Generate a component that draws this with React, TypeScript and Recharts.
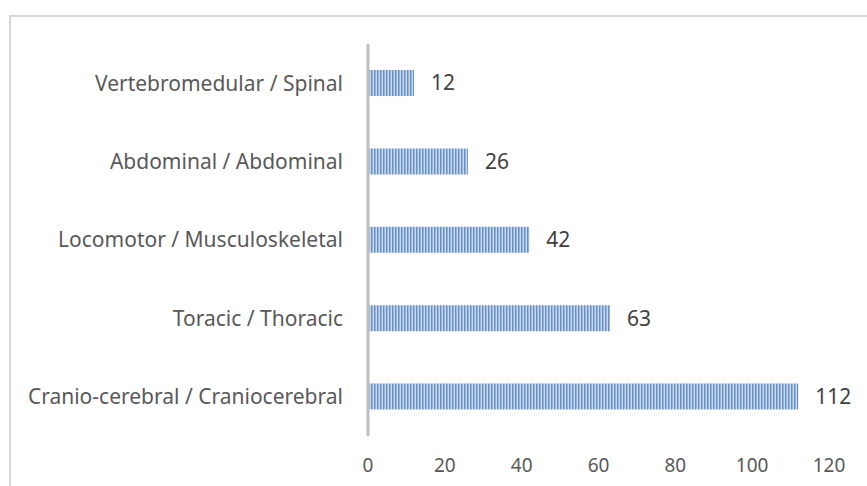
import { BarChart, Bar, XAxis, YAxis, LabelList } from "recharts";

const categories = [
  "Vertebromedular / Spinal",
  "Abdominal / Abdominal",
  "Locomotor / Musculoskeletal",
  "Toracic / Thoracic",
  "Cranio-cerebral / Craniocerebral",
];
const counts = [12, 26, 42, 63, 112];
const xTicks = [0, 20, 40, 60, 80, 100, 120];

const data = categories.map((name, i) => ({ name, value: counts[i] }));

const font = "'Noto Sans', sans-serif";

export default function App() {
  return (
    <div
      style={{
        position: "absolute",
        left: 9,
        top: 15,
        width: 858,
        height: 471,
        borderTop: "2px solid #d9d9d9",
        borderLeft: "2px solid #d9d9d9",
        background: "#fff",
        fontFamily: font,
      }}
    >
      <BarChart
        width={856}
        height={469}
        data={data}
        layout="vertical"
        margin={{ top: 27, right: 38, bottom: 10, left: 0 }}
        barSize={26}
      >
        <defs>
          <pattern id="stripes" width="3" height="4" patternUnits="userSpaceOnUse">
            <rect width="3" height="4" fill="#c8d8ed" />
            <rect width="1.5" height="4" fill="#6890c4" />
          </pattern>
        </defs>
        <XAxis
          type="number"
          domain={[0, 120]}
          ticks={xTicks}
          axisLine={false}
          tickLine={false}
          tickMargin={17}
          height={40}
          tick={{ fill: "#595959", fontSize: 19, fontFamily: font }}
        />
        <YAxis
          type="category"
          dataKey="name"
          width={357}
          axisLine={{ stroke: "#bfbfbf", strokeWidth: 3 }}
          tickLine={false}
          tickMargin={19}
          tick={{ fill: "#595959", fontSize: 21, fontFamily: font }}
        />
        <Bar dataKey="value" fill="url(#stripes)" isAnimationActive={false}>
          <LabelList
            dataKey="value"
            position="right"
            offset={17}
            style={{ fill: "#404040", fontSize: 21, fontFamily: font }}
          />
        </Bar>
      </BarChart>
    </div>
  );
}
